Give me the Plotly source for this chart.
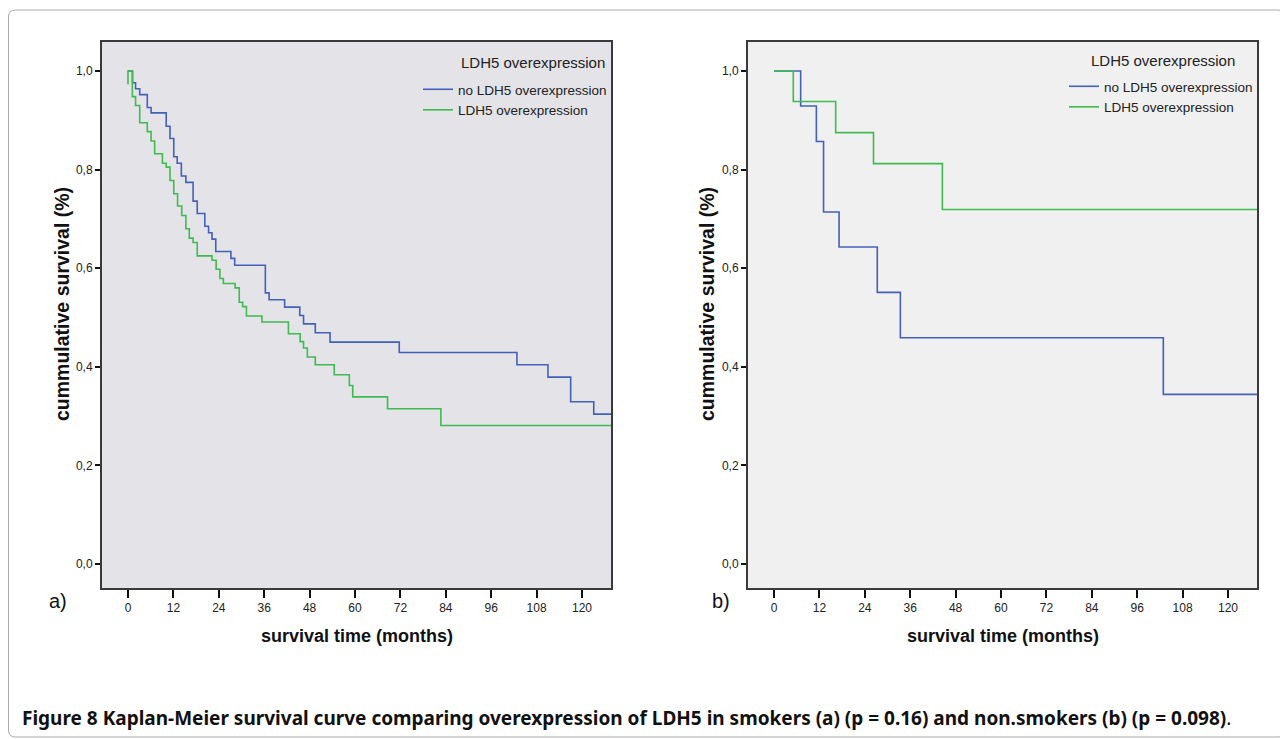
import plotly.graph_objects as go

# ---------------- data ----------------
# Panel a) smokers
a_no_times = [1.2, 2.0, 3.1, 5.1, 6.1, 10.1, 11.1, 12.1, 13.0, 14.1, 15.3, 17.2, 18.3, 20.3, 21.3,
              22.2, 23.2, 27.2, 28.2, 36.3, 37.3, 41.4, 45.4, 46.4, 49.5, 53.4, 71.7, 102.8, 111.0,
              117.0, 123.1]
a_no_surv = [0.976, 0.964, 0.952, 0.926, 0.915, 0.888, 0.863, 0.826, 0.813, 0.787, 0.774, 0.736,
             0.711, 0.685, 0.672, 0.659, 0.634, 0.620, 0.606, 0.550, 0.536, 0.521, 0.504, 0.487,
             0.469, 0.450, 0.429, 0.404, 0.379, 0.329, 0.304]
a_ldh_start = 0.973
a_ldh_times = [1.15, 2.0, 3.1, 5.1, 6.1, 7.05, 9.1, 10.1, 11.1, 12.1, 13.1, 14.2, 15.3, 16.2, 17.2,
               18.3, 22.2, 23.3, 24.3, 25.2, 28.3, 29.4, 30.3, 31.3, 35.4, 42.4, 45.5, 46.4, 47.4,
               49.5, 54.5, 58.5, 59.4, 68.6, 82.7]
a_ldh_surv = [0.948, 0.930, 0.895, 0.877, 0.858, 0.832, 0.813, 0.805, 0.778, 0.751, 0.726, 0.707,
              0.680, 0.661, 0.652, 0.625, 0.616, 0.598, 0.579, 0.569, 0.560, 0.531, 0.522, 0.503,
              0.491, 0.467, 0.451, 0.438, 0.420, 0.404, 0.384, 0.362, 0.339, 0.315, 0.281]
# Panel b) non-smokers
b_no_times = [7.05, 11.2, 13.1, 17.2, 27.3, 33.4, 102.9]
b_no_surv = [0.929, 0.857, 0.714, 0.643, 0.551, 0.459, 0.344]
b_ldh_times = [5.1, 16.3, 26.3, 44.5]
b_ldh_surv = [0.938, 0.875, 0.812, 0.719]
follow_up_end = 128

x_tick_vals = [0, 12, 24, 36, 48, 60, 72, 84, 96, 108, 120]
y_tick_vals = [0.0, 0.2, 0.4, 0.6, 0.8, 1.0]
y_tick_text = ["0,0", "0,2", "0,4", "0,6", "0,8", "1,0"]

series_names = ["no LDH5 overexpression", "LDH5 overexpression"]
legend_title = "LDH5 overexpression"
x_title = "survival time (months)"
y_title = "cummulative survival (%)"
caption = ("<b>Figure 8 Kaplan-Meier survival curve comparing overexpression of LDH5 in smokers (a) "
           "(p = 0.16) and non.smokers (b) (p = 0.098)</b>.")

# ---------------- styling ----------------
# the page body has an 8px margin, so the figure is 8px smaller and positions are shifted by 8px
OFF = 8
W, H = 1288 - OFF, 739 - OFF
BLUE = "#4461b9"
GREEN = "#3fbb4f"
FONT = "Liberation Sans, Arial, sans-serif"


def fx(px):
    return (px - OFF) / W


def fy(py):
    return 1 - (py - OFF) / H


def steps(times, surv, start=1.0, start_x=None):
    xs, ys = [], []
    if start_x is not None:
        xs.append(0)
        ys.append(start_x)
    xs.append(0)
    ys.append(start)
    xs += list(times)
    ys += list(surv)
    xs.append(follow_up_end)
    ys.append(surv[-1])
    return xs, ys


fig = go.Figure()

line_w = 1.6
xa, ya = steps(a_no_times, a_no_surv)
fig.add_trace(go.Scatter(x=xa, y=ya, mode="lines", line=dict(color=BLUE, width=line_w, shape="hv"),
                         name=series_names[0], xaxis="x", yaxis="y", legend="legend"))
xa, ya = steps(a_ldh_times, a_ldh_surv, start_x=a_ldh_start)
fig.add_trace(go.Scatter(x=xa, y=ya, mode="lines", line=dict(color=GREEN, width=line_w, shape="hv"),
                         name=series_names[1], xaxis="x", yaxis="y", legend="legend"))
xb, yb = steps(b_no_times, b_no_surv)
fig.add_trace(go.Scatter(x=xb, y=yb, mode="lines", line=dict(color=BLUE, width=line_w, shape="hv"),
                         name=series_names[0], xaxis="x2", yaxis="y2", legend="legend2"))
xb, yb = steps(b_ldh_times, b_ldh_surv)
fig.add_trace(go.Scatter(x=xb, y=yb, mode="lines", line=dict(color=GREEN, width=line_w, shape="hv"),
                         name=series_names[1], xaxis="x2", yaxis="y2", legend="legend2"))

x_range = [-6.87, 127.66]
y_range = [-0.0487, 1.0588]

common_x = dict(range=x_range, tickvals=x_tick_vals, ticks="outside", ticklen=8, tickwidth=1.6,
                tickcolor="#111", showline=True, mirror=True, linecolor="#3a3a3a", linewidth=2,
                showgrid=False, zeroline=False, tickfont=dict(family=FONT, size=12, color="#222"),
                fixedrange=True)
common_y = dict(range=y_range, tickvals=y_tick_vals, ticktext=y_tick_text, ticks="outside", ticklen=5,
                tickwidth=1.6, tickcolor="#111", showline=True, mirror=True, linecolor="#3a3a3a",
                linewidth=2, showgrid=False, zeroline=False,
                tickfont=dict(family=FONT, size=12, color="#222"), fixedrange=True)

legend_common = dict(bgcolor="rgba(0,0,0,0)", borderwidth=0, xanchor="right", yanchor="top",
                     font=dict(family=FONT, size=13.5, color="#222"), itemwidth=30,
                     tracegroupgap=0)

fig.update_layout(
    width=W, height=H, margin=dict(l=0, r=0, t=0, b=0),
    paper_bgcolor="white", plot_bgcolor="white",
    xaxis=dict(domain=[fx(102), fx(611)], anchor="y", **common_x),
    yaxis=dict(domain=[fy(588), fy(42)], anchor="x", **common_y),
    xaxis2=dict(domain=[fx(748), fx(1257)], anchor="y2", **common_x),
    yaxis2=dict(domain=[fy(588), fy(42)], anchor="x2", **common_y),
    legend=dict(x=fx(612), y=fy(74), **legend_common),
    legend2=dict(x=fx(1258), y=fy(71), **legend_common),
    showlegend=True,
)

# plot area backgrounds
fig.add_shape(type="rect", xref="x domain", yref="y domain", x0=0, x1=1, y0=0, y1=1,
              fillcolor="#e3e3e8", line_width=0, layer="below")
fig.add_shape(type="rect", xref="x2 domain", yref="y2 domain", x0=0, x1=1, y0=0, y1=1,
              fillcolor="#f0f0f0", line_width=0, layer="below")

# outer rounded frame
r = 7
L, T, R, B = 8.5, 10, 1285, 737
path = (f"M {fx(L + r)},{fy(T)} L {fx(R - r)},{fy(T)} Q {fx(R)},{fy(T)} {fx(R)},{fy(T + r)} "
        f"L {fx(R)},{fy(B - r)} Q {fx(R)},{fy(B)} {fx(R - r)},{fy(B)} "
        f"L {fx(L + r)},{fy(B)} Q {fx(L)},{fy(B)} {fx(L)},{fy(B - r)} "
        f"L {fx(L)},{fy(T + r)} Q {fx(L)},{fy(T)} {fx(L + r)},{fy(T)} Z")
fig.add_shape(type="path", xref="paper", yref="paper", path=path, line=dict(color="#a8a8a8", width=1))

C = dict(xref="paper", yref="paper", showarrow=False, xanchor="center", yanchor="middle")
annots = []
for cx in [357, 1003]:
    annots.append(dict(x=fx(cx), y=fy(636), text=f"<b>{x_title}</b>",
                       font=dict(family=FONT, size=18, color="#111"), **C))
for cx in [62, 707]:
    annots.append(dict(x=fx(cx), y=fy(304), text=f"<b>{y_title}</b>", textangle=-90,
                       font=dict(family=FONT, size=19.5, color="#111"), **C))
for cx, lab in [(58, "a)"), (721, "b)")]:
    annots.append(dict(x=fx(cx), y=fy(601), text=lab,
                       font=dict(family=FONT, size=20, color="#111"), **C))
for cx, cy in [(533, 63), (1163, 61)]:
    annots.append(dict(x=fx(cx), y=fy(cy), text=legend_title,
                       font=dict(family=FONT, size=15, color="#222"), **C))
annots.append(dict(x=fx(20), y=fy(718), xref="paper", yref="paper", xanchor="left", yanchor="middle",
                   showarrow=False, text=caption,
                   font=dict(family="Noto Sans, sans-serif", size=19, color="#111")))
fig.update_layout(annotations=annots)

fig.write_html("out.html")
